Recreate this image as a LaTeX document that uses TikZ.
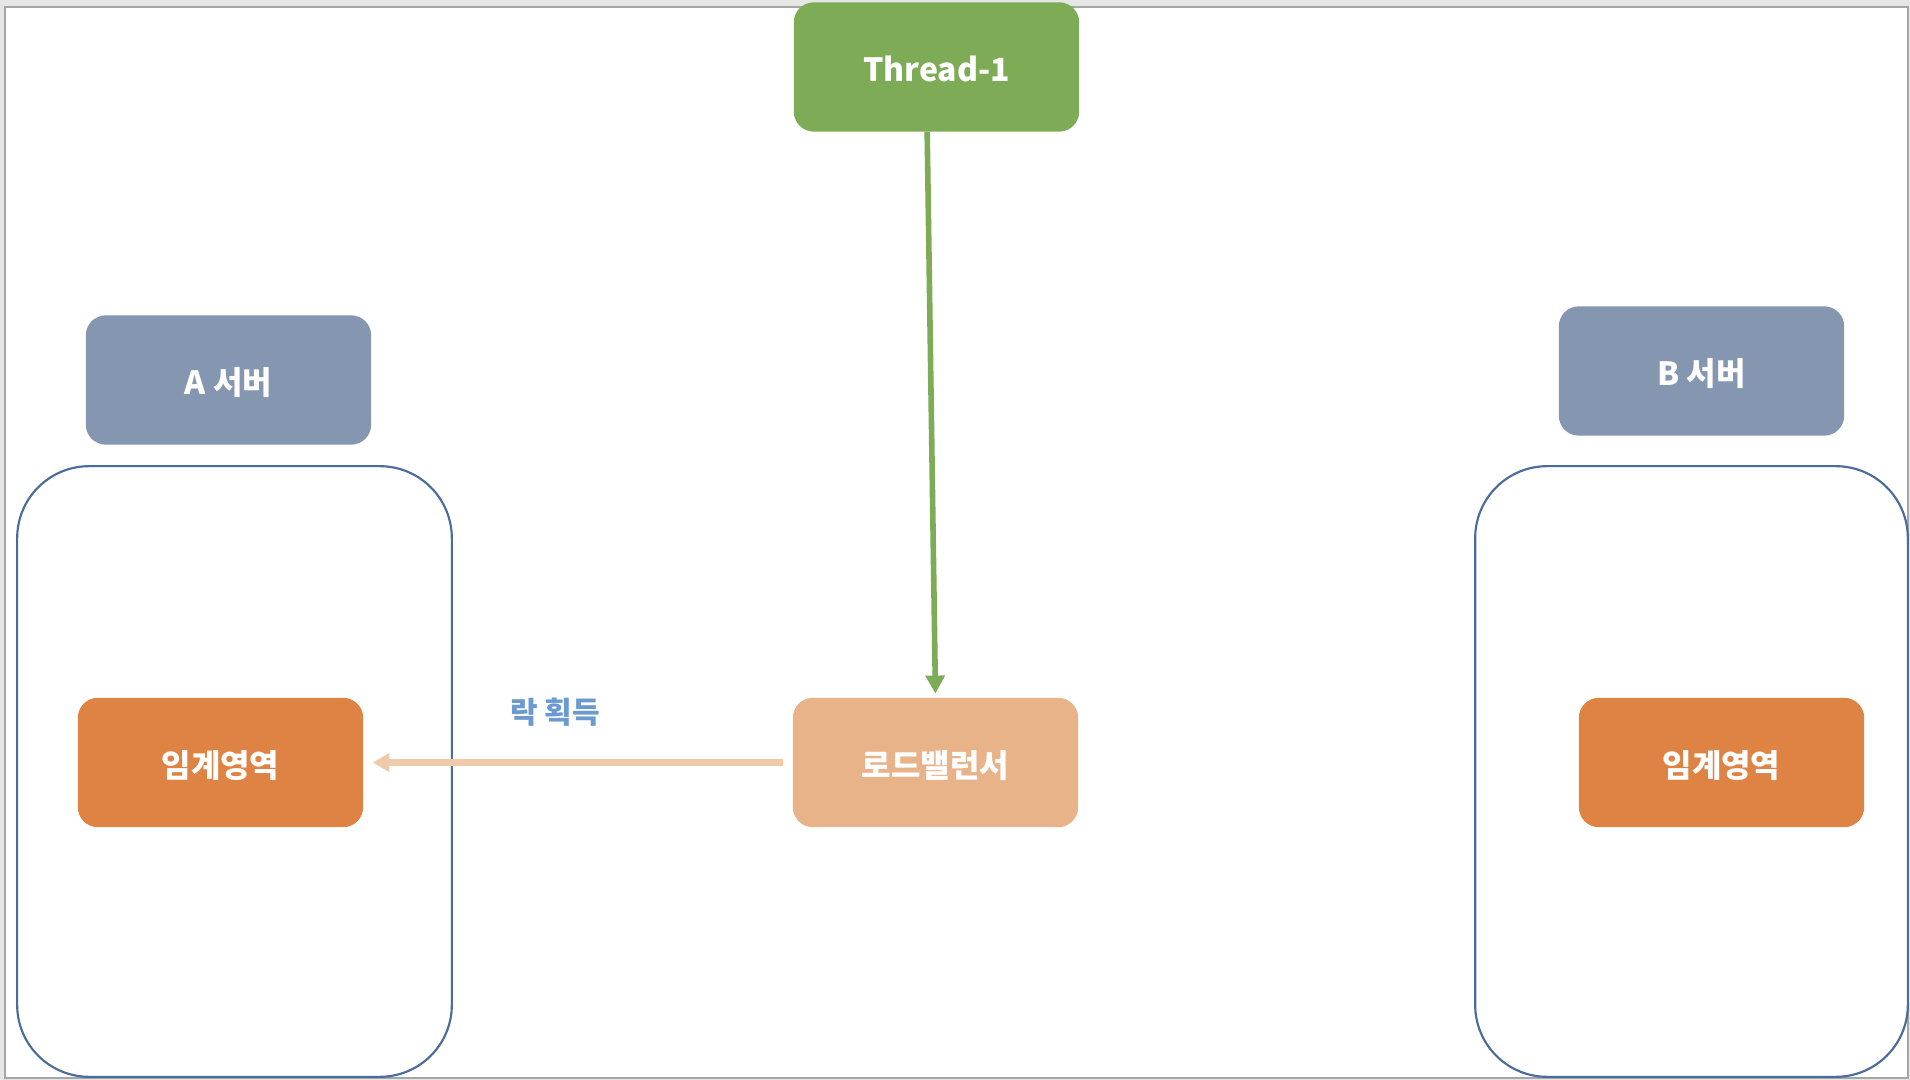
\documentclass[tikz,border=0pt]{standalone}
\usepackage{fontspec}
\newfontfamily\krfont{Noto Sans CJK KR}
\usetikzlibrary{arrows.meta}
\definecolor{thgreen}{HTML}{7EAB55}
\definecolor{lbpeach}{HTML}{E9B38A}
\definecolor{critorange}{HTML}{DF8344}
\definecolor{srvgray}{HTML}{8596B0}
\definecolor{contblue}{HTML}{4A6C9B}
\definecolor{arrowpeach}{HTML}{F0CBA9}
\definecolor{lblblue}{HTML}{6B9AD0}
\definecolor{outergray}{HTML}{E6E6E6}
\definecolor{framegray}{HTML}{A6A6A6}
\tikzset{
  box/.style={rounded corners=15pt, minimum width=214pt, minimum height=97pt,
    inner sep=0pt, text=white, text height=22.5pt, text depth=0pt,
    font=\krfont\bfseries\fontsize{24pt}{28pt}\selectfont},
  container/.style={draw=contblue, line width=1.6pt, rounded corners=54pt, fill=white,
    minimum width=326pt, minimum height=458pt, inner sep=0pt},
  lbl/.style={text=lblblue, font=\krfont\bfseries\fontsize{22.5pt}{26pt}\selectfont}
}
\begin{document}
\begin{tikzpicture}[x=0.75pt,y=-0.75pt]
\useasboundingbox (0,0) rectangle (1910,1080);
\fill[outergray] (0,0) rectangle (1910,1080);
\draw[framegray, fill=white, line width=1pt] (5,7) rectangle (1908,1078);
% containers
\node[container] (contA) at (234.5,771.5) {};
\node[container, minimum width=324.5pt] (contB) at (1691.5,771.5) {};
% boxes
\node[box, fill=thgreen] (thread) at (936.5,67) {Thread-1};
\node[box, fill=srvgray] (srvA) at (228.5,380) {A 서버};
\node[box, fill=srvgray] (srvB) at (1701.5,371) {B 서버};
\node[box, fill=critorange] (critA) at (220.5,762.5) {임계영역};
\node[box, fill=critorange] (critB) at (1721.5,762.5) {임계영역};
\node[box, fill=lbpeach] (lb) at (935.5,762.5) {로드밸런서};
\node[lbl] (lock) at (555,712) {락 획득};
% connectors
\draw[thgreen, line width=4.2pt, -{Triangle[length=13.5pt,width=14pt]}, shorten >=3pt]
  ([xshift=-7pt]thread.south) -- (lb.north);
\draw[arrowpeach, line width=5pt, -{Triangle[length=12.5pt,width=13.5pt]}, shorten <=7.5pt, shorten >=7pt]
  (lb.west) -- (critA.east);
\end{tikzpicture}
\end{document}
